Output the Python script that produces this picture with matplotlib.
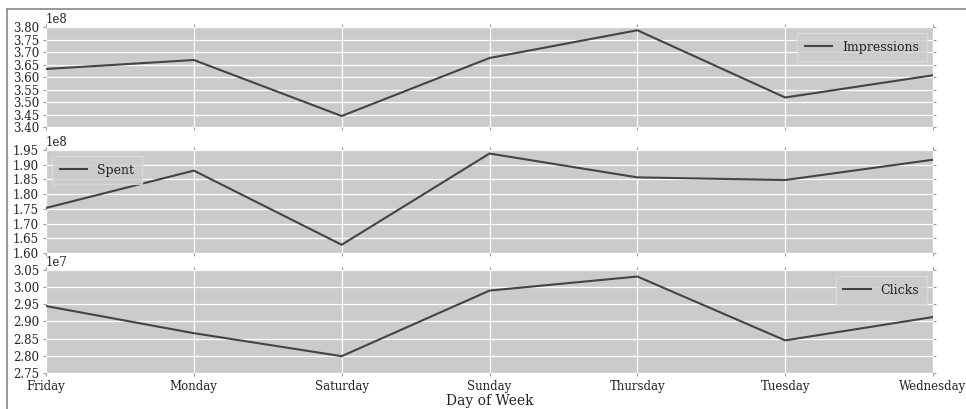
import numpy as np
import matplotlib
matplotlib.use("Agg")
import matplotlib.pyplot as plt
from matplotlib.lines import Line2D

plt.rcParams["font.family"] = ["DejaVu Serif"]

days = ["Friday", "Monday", "Saturday", "Sunday", "Thursday", "Tuesday", "Wednesday"]
impressions = [3.632e8, 3.668e8, 3.444e8, 3.676e8, 3.787e8, 3.518e8, 3.607e8]
spent = [1.753e8, 1.880e8, 1.628e8, 1.938e8, 1.857e8, 1.848e8, 1.917e8]
clicks = [2.945e7, 2.866e7, 2.799e7, 2.990e7, 3.031e7, 2.845e7, 2.913e7]

series = [
    ("Impressions", impressions, (3.40e8, 3.80e8), 1e8, "upper right"),
    ("Spent", spent, (1.60e8, 1.95e8), 1e8, "upper left"),
    ("Clicks", clicks, (2.75e7, 3.05e7), 1e7, "upper right"),
]

W, H = 966, 409
fig = plt.figure(figsize=(W / 100, H / 100), dpi=100)
fig.patch.set_facecolor("white")

# screenshot frame (top and left edge)
fig.add_artist(Line2D([7 / W, 1], [1 - 9 / H, 1 - 9 / H], color="#888888", lw=1.2))
fig.add_artist(Line2D([7 / W, 7 / W], [0, 1 - 9 / H], color="#888888", lw=1.2))

boxes = [(27, 127), (150, 253), (270, 373)]
left, right = 46 / W, 933 / W
axes = []
for (top, bot), (name, vals, ylim, scale, loc) in zip(boxes, series):
    ax = fig.add_axes([left, 1 - bot / H, right - left, (bot - top) / H])
    ax.set_facecolor("#cbcbcb")
    for sp in ax.spines.values():
        sp.set_visible(False)
    x = np.arange(len(days))
    ax.plot(x, vals, color="#444444", lw=1.5, label=name)
    ax.set_xlim(0, len(days) - 1)
    ax.set_ylim(*ylim)
    ticks = np.arange(ylim[0], ylim[1] + scale * 0.01, scale * 0.05)
    ax.set_yticks(ticks)
    ax.set_yticklabels([f"{t / scale:.2f}" for t in ticks])
    ax.set_xticks(x)
    ax.grid(True, color="white", lw=0.9)
    ax.set_axisbelow(True)
    ax.tick_params(direction="out", length=2, color="#999999", labelsize=8.5,
                   labelcolor="#222222", top=True, right=True, pad=3)
    ax.text(0.0, 1.01, "1e%d" % int(np.log10(scale)), transform=ax.transAxes,
            fontsize=8.5, color="#222222", ha="left", va="bottom")
    leg = ax.legend(loc=loc, fontsize=9, frameon=True, fancybox=False,
                    handlelength=2.2, borderpad=0.6)
    leg.get_frame().set_facecolor("#cbcbcb")
    leg.get_frame().set_edgecolor("#dddddd")
    for t in leg.get_texts():
        t.set_color("#222222")
    axes.append(ax)

for ax in axes[:-1]:
    ax.set_xticklabels([])
axes[-1].set_xticklabels(days)
axes[-1].set_xlabel("Day of Week", fontsize=10, color="#222222", labelpad=1)

fig.savefig("out.png", dpi=100)
